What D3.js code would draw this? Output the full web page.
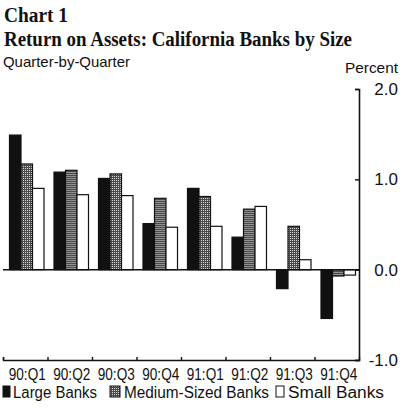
<!DOCTYPE html>
<html>
<head>
<meta charset="utf-8">
<script src="https://cdn.jsdelivr.net/npm/d3@7"></script>
<style>
  body { margin: 0; background: #fff; }
  .sans { font-family: "Liberation Sans", Arial, sans-serif; fill: #111; }
  .serif { font-family: "Liberation Serif", "Times New Roman", serif; font-weight: bold; fill: #111; }
</style>
</head>
<body>
<svg id="chart"></svg>
<script>
// data
const quarters = ["90:Q1", "90:Q2", "90:Q3", "90:Q4", "91:Q1", "91:Q2", "91:Q3", "91:Q4"];
const seriesNames = ["Large Banks", "Medium-Sized Banks", "Small Banks"];
const largeBanks = [1.49, 1.08, 1.01, 0.51, 0.90, 0.36, -0.21, -0.54];
const mediumBanks = [1.17, 1.10, 1.06, 0.79, 0.81, 0.67, 0.48, -0.07];
const smallBanks = [0.90, 0.83, 0.82, 0.47, 0.48, 0.70, 0.11, -0.06];
const yTicks = [2.0, 1.0, 0.0, -1.0];

const svg = d3.select("#chart")
    .attr("width", 402)
    .attr("height", 408);

// hatched fill for medium-sized banks
const defs = svg.append("defs");
const pat = defs.append("pattern")
    .attr("id", "hatch")
    .attr("patternUnits", "userSpaceOnUse")
    .attr("width", 2)
    .attr("height", 2);
pat.append("rect").attr("width", 2).attr("height", 2).attr("fill", "#4a4a4a");
pat.append("rect").attr("width", 1).attr("height", 1).attr("fill", "#d8d8d8");

const fills = ["#111", "url(#hatch)", "#fff"];

// titles
svg.append("text").attr("class", "serif")
    .attr("x", 4).attr("y", 22)
    .style("font-size", "20px")
    .attr("textLength", 64).attr("lengthAdjust", "spacingAndGlyphs")
    .text("Chart 1");
svg.append("text").attr("class", "serif")
    .attr("x", 4).attr("y", 46)
    .style("font-size", "20px")
    .attr("textLength", 348).attr("lengthAdjust", "spacingAndGlyphs")
    .text("Return on Assets: California Banks by Size");
svg.append("text").attr("class", "sans")
    .attr("x", 3).attr("y", 67)
    .style("font-size", "15px")
    .attr("textLength", 127).attr("lengthAdjust", "spacingAndGlyphs")
    .text("Quarter-by-Quarter");
svg.append("text").attr("class", "sans")
    .attr("x", 345).attr("y", 73)
    .style("font-size", "15px")
    .attr("textLength", 53).attr("lengthAdjust", "spacingAndGlyphs")
    .text("Percent");

// scales
const x = d3.scaleBand()
    .domain(quarters)
    .range([3, 359])
    .padding(0);
const xInner = d3.scaleBand()
    .domain(seriesNames)
    .range([6.5, 41]);
const y = d3.scaleLinear()
    .domain([-1, 2])
    .range([360, 89]);

const rows = quarters.map((q, i) => ({
    q,
    vals: [largeBanks[i], mediumBanks[i], smallBanks[i]]
}));

// bars
const groups = svg.selectAll(".grp")
    .data(rows)
    .enter().append("g")
    .attr("class", "grp")
    .attr("transform", d => `translate(${x(d.q)},0)`);

groups.selectAll("rect")
    .data(d => d.vals.map((v, j) => ({ v, j })))
    .enter().append("rect")
    .attr("x", d => xInner(seriesNames[d.j]))
    .attr("width", xInner.bandwidth())
    .attr("y", d => y(Math.max(0, d.v)))
    .attr("height", d => Math.abs(y(d.v) - y(0)))
    .attr("fill", d => fills[d.j])
    .attr("stroke", "#111")
    .attr("stroke-width", 1.2);

// zero line
svg.append("line")
    .attr("x1", 3).attr("x2", 359)
    .attr("y1", y(0)).attr("y2", y(0))
    .attr("stroke", "#111").attr("stroke-width", 1.5);

// right axis
const yAxis = svg.append("g")
    .attr("transform", "translate(359,0)")
    .call(d3.axisLeft(y).tickValues(yTicks).tickSize(4).tickFormat(""));
yAxis.select(".domain").attr("stroke", "#111").attr("stroke-width", 1.6);
yAxis.selectAll(".tick line").attr("stroke", "#111").attr("stroke-width", 1.4);

svg.selectAll(".ylab")
    .data(yTicks)
    .enter().append("text")
    .attr("class", "sans ylab")
    .attr("x", 398)
    .attr("y", d => y(d) + 6)
    .attr("text-anchor", "end")
    .style("font-size", "17px")
    .text(d => d3.format(".1f")(d).replace("−", "-"));

// bottom axis
const xAxis = svg.append("g")
    .attr("transform", `translate(0,${y(-1)})`)
    .call(d3.axisTop(d3.scaleLinear().domain([0, 8]).range([3, 359]))
        .tickValues(d3.range(0, 8)).tickSize(3).tickFormat(""));
xAxis.select(".domain").attr("stroke", "#111").attr("stroke-width", 1.4);
xAxis.selectAll(".tick line").attr("stroke", "#111").attr("stroke-width", 1.4);

svg.selectAll(".xlab")
    .data(quarters)
    .enter().append("text")
    .attr("class", "sans xlab")
    .attr("x", d => x(d) + x.bandwidth() / 2 + 2)
    .attr("y", 380)
    .attr("text-anchor", "middle")
    .style("font-size", "16px")
    .attr("textLength", 37).attr("lengthAdjust", "spacingAndGlyphs")
    .text(d => d);

// legend
const legend = [
    { name: seriesNames[0], sx: 3, sw: 7, tx: 13, tw: 84 },
    { name: seriesNames[1], sx: 110, sw: 10, tx: 124, tw: 145 },
    { name: seriesNames[2], sx: 276, sw: 8, tx: 288, tw: 96 }
];
legend.forEach((d, i) => {
    svg.append("rect")
        .attr("x", d.sx).attr("y", 386)
        .attr("width", d.sw).attr("height", 11)
        .attr("fill", fills[i])
        .attr("stroke", "#111").attr("stroke-width", 1);
    svg.append("text").attr("class", "sans")
        .attr("x", d.tx).attr("y", 398)
        .style("font-size", "16px")
        .attr("textLength", d.tw).attr("lengthAdjust", "spacingAndGlyphs")
        .text(d.name);
});
</script>
</body>
</html>
